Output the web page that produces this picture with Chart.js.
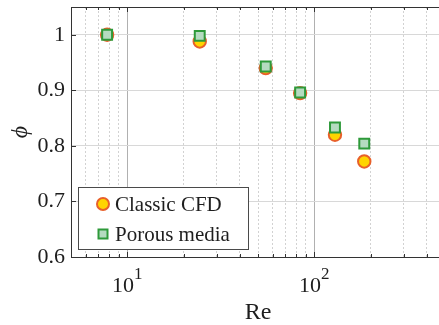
<!DOCTYPE html>
<html><head><meta charset="utf-8">
<script src="https://cdn.jsdelivr.net/npm/chart.js@4"></script>
<style>
html,body{margin:0;padding:0;width:439px;height:325px;overflow:hidden;background:#fff}
#wrap{width:446px;height:325px;position:relative}
canvas{display:block}
</style></head><body>
<div id="wrap"><canvas id="c" width="446" height="325"></canvas></div>
<script>
const reynolds = [7.8, 24.4, 55, 84, 129, 185];
const phiClassicCFD = [1.000, 0.988, 0.940, 0.895, 0.820, 0.772];
const phiPorousMedia = [1.000, 0.998, 0.943, 0.896, 0.833, 0.804];
const seriesLabels = ['Classic CFD', 'Porous media'];
const xMajorTicks = [10, 100];
const xTickBase = ['10', '10'];
const xTickExponent = ['1', '2'];
const xMinorTicks = [6, 7, 8, 9, 20, 30, 40, 50, 60, 70, 80, 90, 200, 300, 400];
const yTicks = [0.6, 0.7, 0.8, 0.9, 1.0];
const yTickLabels = ['0.6', '0.7', '0.8', '0.9', '1'];
const xTitle = 'Re';
const yTitle = '\u03D5';

const FONT = '"Liberation Serif", "Times New Roman", serif';
const AXIS = '#333333';
const TEXT = '#1e1e1e';

const toPts = (xs, ys) => xs.map((x, i) => ({x: x, y: ys[i]}));

const frame = {
  id: 'frame',
  afterDatasetsDraw(chart) {
    const {ctx, chartArea: a, scales: {x, y}} = chart;
    ctx.save();
    ctx.strokeStyle = AXIS;
    ctx.lineWidth = 1;
    ctx.beginPath();
    ctx.moveTo(a.left, a.top + 0.5);
    ctx.lineTo(a.right, a.top + 0.5);
    x.ticks.forEach(t => {
      const px = Math.round(x.getPixelForValue(t.value)) + 0.5;
      const len = t.major ? 5 : 3;
      ctx.moveTo(px, a.bottom); ctx.lineTo(px, a.bottom - len);
      ctx.moveTo(px, a.top); ctx.lineTo(px, a.top + len);
    });
    y.ticks.forEach(t => {
      const py = Math.round(y.getPixelForValue(t.value)) + 0.5;
      ctx.moveTo(a.left, py); ctx.lineTo(a.left + 5, py);
    });
    ctx.stroke();
    ctx.restore();
  },
  afterDraw(chart) {
    const {ctx, scales: {x}} = chart;
    ctx.save();
    ctx.fillStyle = TEXT;
    ctx.textBaseline = 'alphabetic';
    ctx.textAlign = 'left';
    xMajorTicks.forEach((v, i) => {
      const px = x.getPixelForValue(v);
      ctx.font = '22px ' + FONT;
      const wb = ctx.measureText(xTickBase[i]).width;
      ctx.font = '17px ' + FONT;
      const we = ctx.measureText(xTickExponent[i]).width;
      const x0 = px - (wb + we) / 2;
      ctx.font = '22px ' + FONT;
      ctx.fillText(xTickBase[i], x0, 291.5);
      ctx.font = '17px ' + FONT;
      ctx.fillText(xTickExponent[i], x0 + wb, 278.5);
    });
    const ds = chart.data.datasets;
    const bx = 78.5, by = 187.5, bw = 170, bh = 62;
    ctx.fillStyle = '#ffffff';
    ctx.fillRect(bx, by, bw, bh);
    ctx.strokeStyle = '#4a4a4a';
    ctx.lineWidth = 1;
    ctx.strokeRect(bx, by, bw, bh);
    const rows = [204, 234];
    ds.forEach((d, i) => {
      const cy = rows[i], cx = 103;
      ctx.fillStyle = d.backgroundColor;
      ctx.strokeStyle = d.borderColor;
      ctx.lineWidth = d.borderWidth;
      ctx.beginPath();
      if (d.pointStyle === 'circle') {
        ctx.arc(cx, cy, 6, 0, Math.PI * 2);
      } else {
        ctx.rect(cx - 4.5, cy - 4.5, 9, 9);
      }
      ctx.fill();
      ctx.stroke();
      ctx.fillStyle = TEXT;
      ctx.font = '21px ' + FONT;
      ctx.textBaseline = 'middle';
      ctx.textAlign = 'left';
      ctx.fillText(d.label, 115, cy + 1);
    });
    ctx.restore();
  }
};

new Chart(document.getElementById('c'), {
  type: 'scatter',
  data: {
    datasets: [
      {
        label: seriesLabels[0],
        data: toPts(reynolds, phiClassicCFD),
        order: 2,
        pointStyle: 'circle',
        pointRadius: 6.2,
        backgroundColor: '#FFD400',
        borderColor: '#E8602A',
        borderWidth: 2
      },
      {
        label: seriesLabels[1],
        data: toPts(reynolds, phiPorousMedia),
        order: 1,
        pointStyle: 'rect',
        pointRadius: 7,
        backgroundColor: '#B5DBC0',
        borderColor: '#2E9A3A',
        borderWidth: 2
      }
    ]
  },
  options: {
    responsive: false,
    devicePixelRatio: 1,
    animation: false,
    layout: {autoPadding: false, padding: {top: 7, right: 1, left: 0, bottom: 0}},
    plugins: {legend: {display: false}, tooltip: {enabled: false}},
    scales: {
      x: {
        type: 'logarithmic',
        min: 5,
        max: 500,
        afterBuildTicks(scale) {
          scale.ticks = xMinorTicks.concat(xMajorTicks).sort((a, b) => a - b)
            .map(v => ({value: v, major: xMajorTicks.includes(v)}));
        },
        afterFit(scale) {
          scale.height = 68;
          scale.paddingLeft = 0; scale.paddingRight = 0;
        },
        ticks: {display: false, autoSkip: false, maxRotation: 0},
        grid: {
          drawTicks: false,
          color: ctx => (ctx.tick && ctx.tick.major) ? '#b0b0b0' : '#d2d2d2',
          lineWidth: 1
        },
        border: {
          display: true, color: AXIS, width: 1,
          dash: ctx => (ctx.tick && !ctx.tick.major) ? [2, 2] : []
        },
        title: {
          display: true, text: xTitle, color: TEXT,
          font: {family: FONT, size: 24, lineHeight: 1},
          padding: {top: 0, bottom: 0}
        }
      },
      y: {
        min: 0.6,
        max: 1.05,
        afterBuildTicks(scale) {
          scale.ticks = yTicks.map(v => ({value: v}));
        },
        afterFit(scale) {
          scale.width = 71;
          scale.paddingTop = 0; scale.paddingBottom = 0;
        },
        ticks: {
          padding: 6,
          color: TEXT,
          font: {family: FONT, size: 22},
          callback(value, index) { return yTickLabels[index]; }
        },
        grid: {drawTicks: false, color: '#d8d8d8', lineWidth: 1},
        border: {display: true, color: AXIS, width: 1},
        title: {
          display: true, text: yTitle, color: TEXT,
          font: {family: FONT, size: 24, style: 'italic'},
          padding: {top: 6, bottom: 0}
        }
      }
    }
  },
  plugins: [frame]
});
</script>
</body></html>
